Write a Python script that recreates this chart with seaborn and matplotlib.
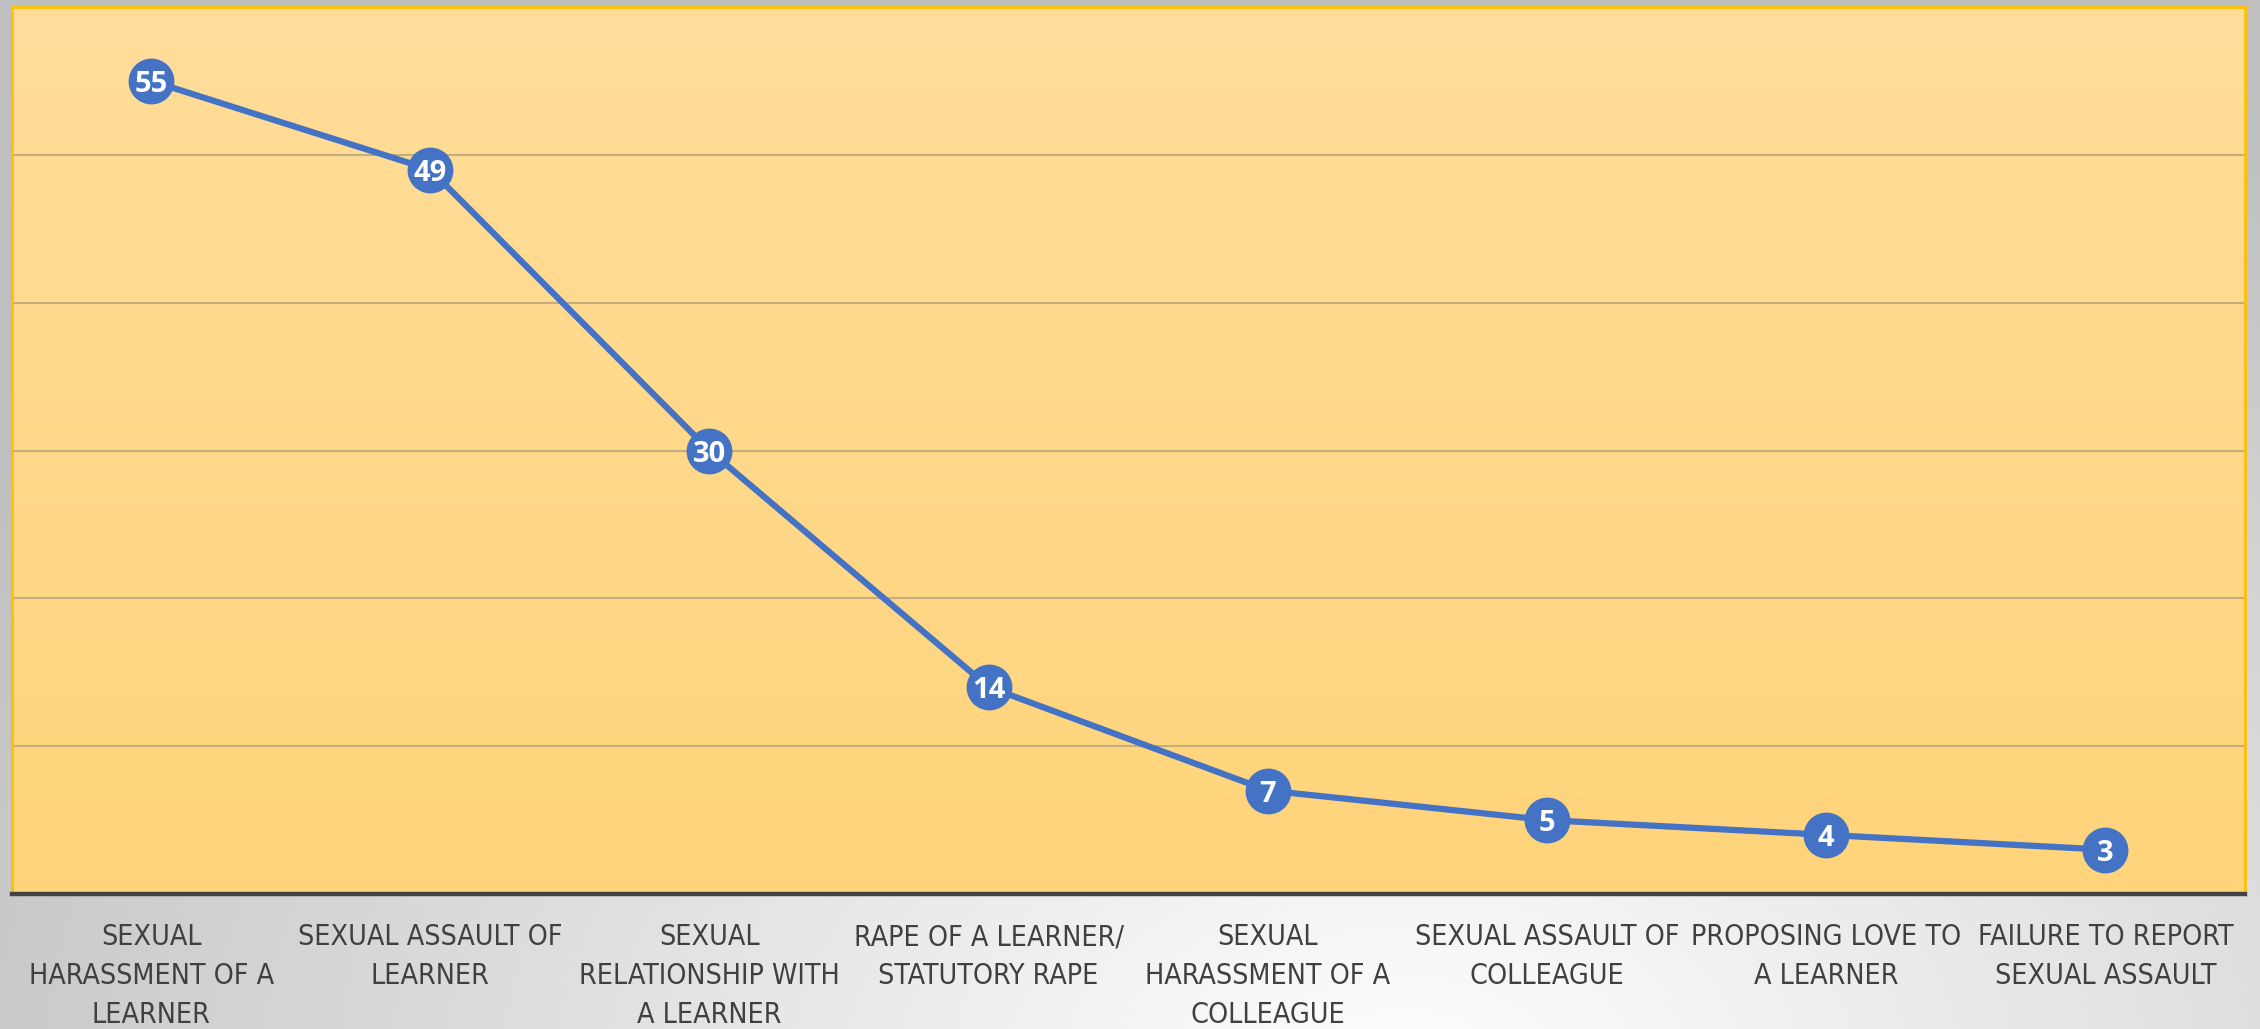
import numpy as np
import matplotlib
matplotlib.use("Agg")
import matplotlib.pyplot as plt
from matplotlib import font_manager as fm
import seaborn as sns
import pandas as pd

categories = [
    "SEXUAL\nHARASSMENT OF A\nLEARNER",
    "SEXUAL ASSAULT OF\nLEARNER",
    "SEXUAL\nRELATIONSHIP WITH\nA LEARNER",
    "RAPE OF A LEARNER/\nSTATUTORY RAPE",
    "SEXUAL\nHARASSMENT OF A\nCOLLEAGUE",
    "SEXUAL ASSAULT OF\nCOLLEAGUE",
    "PROPOSING LOVE TO\nA LEARNER",
    "FAILURE TO REPORT\nSEXUAL ASSAULT",
]
values = [55, 49, 30, 14, 7, 5, 4, 3]
grid_values = [10, 20, 30, 40, 50]

sns.set_theme(style="white")
plt.rcParams['font.family'] = ['DejaVu Sans']

# choose a narrow font for the category labels
fonts = fm.fontManager.ttflist
if any(f.name == 'Liberation Sans Narrow' for f in fonts):
    tick_font = dict(family=['Liberation Sans Narrow', 'DejaVu Sans'], size=22.5, stretch='normal')
elif any(f.name == 'DejaVu Sans' and f.stretch in ('condensed', 'semi-condensed') for f in fonts):
    tick_font = dict(family=['DejaVu Sans'], size=20.5, stretch='condensed')
else:
    tick_font = dict(family=['Roboto', 'DejaVu Sans'], size=19.5, stretch='normal')

W, H = 2260, 1029
fig = plt.figure(figsize=(W / 100, H / 100), dpi=100)

# figure background: grey radial gradient, lightest near bottom centre
bg = fig.add_axes([0, 0, 1, 1], zorder=-10)
yy, xx = np.mgrid[0:H:4, 0:W:4]
d = np.sqrt(((xx - 0.62 * W) / (0.75 * W)) ** 2 + ((yy - 1.05 * H) / (1.05 * H)) ** 2)
g = 1.0 - 0.25 * np.clip(d, 0, 1)
bgimg = np.dstack([g, g, g])
bg.imshow(bgimg, extent=[0, 1, 0, 1], aspect='auto', origin='upper')
bg.set_axis_off()

left = 11.5 / W
right = 2245 / W
bottom = (H - 894) / H
top = (H - 7) / H
ax = fig.add_axes([left, bottom, right - left, top - bottom])

df = pd.DataFrame({"category": categories, "value": values})

# plot area gradient
c_top = np.array([255, 221, 154]) / 255
c_bot = np.array([255, 212, 122]) / 255
t = np.linspace(0, 1, 256)[:, None]
grad = (c_top * (1 - t) + c_bot * t)[:, None, :]
grad = np.repeat(grad, 2, axis=1)

sns.lineplot(data=df, x="category", y="value", sort=False, ax=ax,
             color="#4472C4", linewidth=4.5, marker="o", markersize=33,
             markeredgewidth=0, zorder=5)

n = len(categories)
ax.imshow(grad, extent=[-0.5, n - 0.5, 0, 60], aspect='auto',
          origin='upper', zorder=0)
ax.set_xlim(-0.5, n - 0.5)
ax.set_ylim(0, 60)

for gv in grid_values:
    ax.axhline(gv, color="#C4AE7F", linewidth=1.5, zorder=1)

for i, v in enumerate(values):
    ax.text(i, v, str(v), ha='center', va='center_baseline', color='white',
            fontsize=21, fontweight='bold', family=['Open Sans', 'DejaVu Sans'],
            zorder=6)

ax.set_xlabel("")
ax.set_ylabel("")
ax.set_yticks([])
ax.set_xticks(range(n))
ax.set_xticklabels(categories, color="#404040", linespacing=1.5,
                   fontfamily=tick_font['family'], fontsize=tick_font['size'],
                   fontstretch=tick_font['stretch'])
ax.tick_params(axis='x', length=0, pad=21)

for s in ['top', 'left', 'right']:
    ax.spines[s].set_color('#FFC000')
    ax.spines[s].set_linewidth(2)
    ax.spines[s].set_visible(True)
ax.spines['bottom'].set_color('#444444')
ax.spines['bottom'].set_linewidth(3.2)
ax.spines['bottom'].set_visible(True)
ax.spines['bottom'].set_zorder(7)

fig.savefig("out.png", dpi=100)
